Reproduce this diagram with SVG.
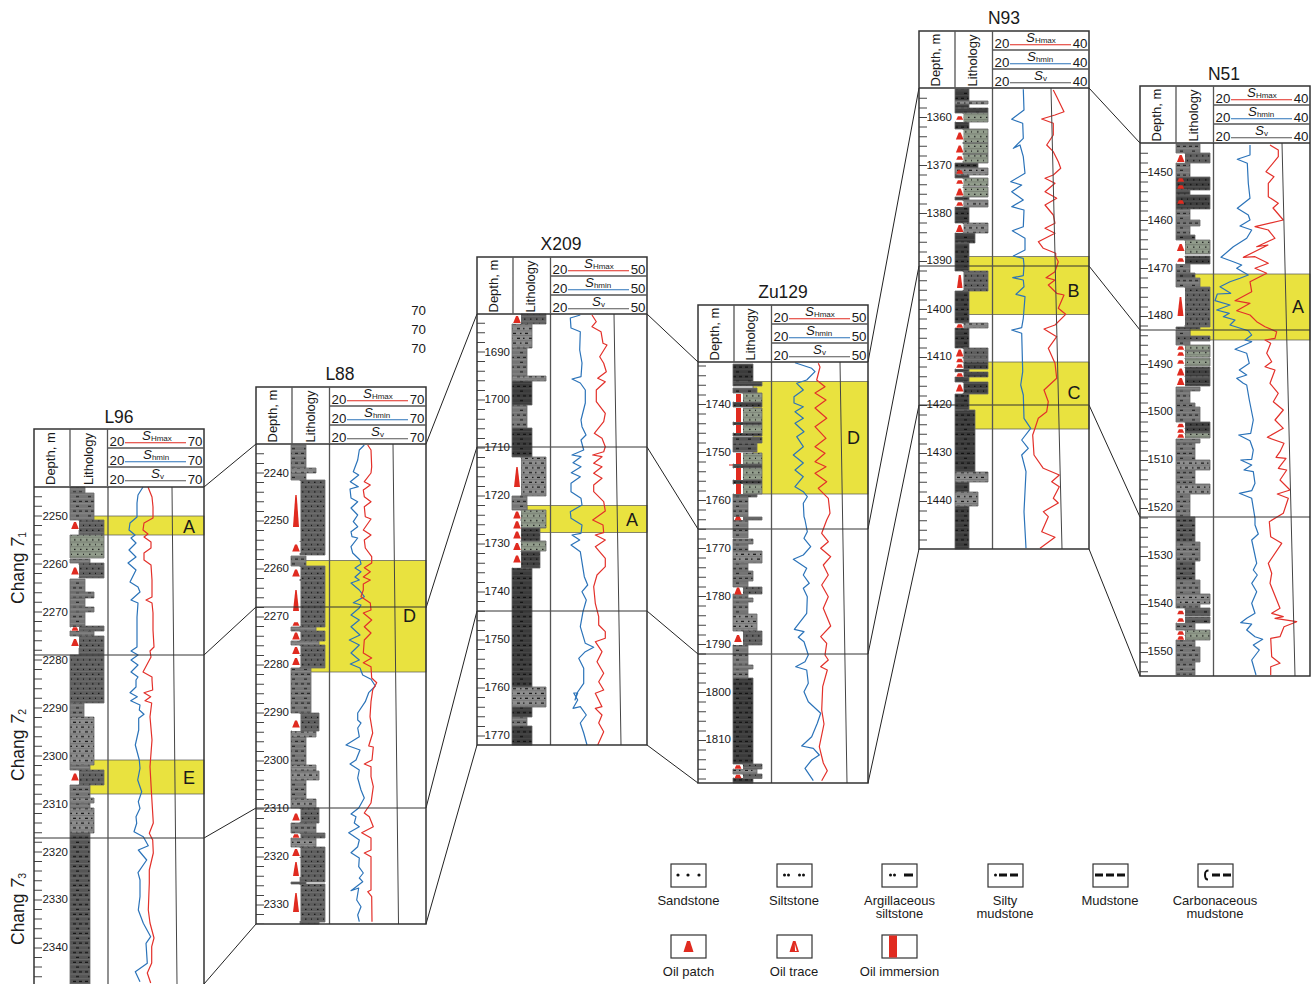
<svg xmlns="http://www.w3.org/2000/svg" width="1312" height="984" viewBox="0 0 1312 984">
<style>
text{font-family:"Liberation Sans",Arial,sans-serif;fill:#1a1a1a}
.ti{font-size:17.5px;text-anchor:middle}
.hd{font-size:13px}
.n{font-size:13.3px}
.e{text-anchor:end}
.st{font-size:13.3px;font-style:italic}
.sb{font-size:8px;font-style:normal}
.dp{font-size:11.5px;text-anchor:end}
.za{font-size:18px;text-anchor:middle}
.ch{font-size:17.5px}
.ch7{font-style:italic}
.chs{font-size:10.5px}
.lg{font-size:13px;text-anchor:middle}
.fr{fill:none;stroke:#333;stroke-width:1.5}
.div{fill:none;stroke:#555;stroke-width:1.3}
.hl{stroke:#333;stroke-width:1;fill:none}
.sv{stroke:#444;stroke-width:1;fill:none}
.tk{stroke:#444;stroke-width:8;stroke-dasharray:1 8.6;fill:none}
.yb{fill:#e9e23f;stroke:#555;stroke-width:.7}
.bl{fill:none;stroke:#2b73b9;stroke-width:1.2;stroke-linejoin:round}
.rd{fill:none;stroke:#e3302a;stroke-width:1.2;stroke-linejoin:round}
.lr{stroke:#e1291f;stroke-width:1.1}
.lb{stroke:#2a72b8;stroke-width:1.1}
.lv{stroke:#555;stroke-width:1.1}
.wh{fill:#fff}
.tri{fill:#e02b20}
.b{stroke:#6a6a6a;stroke-width:.8}
.fs{fill:url(#ps)}.fk{fill:url(#pk)}.fg{fill:url(#pg)}.fl{fill:url(#pl)}.fm{fill:url(#pm)}.fn{fill:url(#pn)}.fd{fill:url(#pd)}
.cn{stroke:#222;stroke-width:1;fill:none}
.lgb{fill:#fff;stroke:#333;stroke-width:1.2}
.lgd{fill:#111}
</style>
<defs>
<pattern id="ps" width="12" height="9.6" patternUnits="userSpaceOnUse"><rect width="12" height="9.6" fill="#5e5e5e"/><path d="M0 4.6H12M0 9.4H12" stroke="#8e8e8e" stroke-width=".5"/><path d="M2 2.3h1.5M8 2.3h1.5M5 7.1h1.5M11 7.1h1" stroke="#111" stroke-width="1.3"/></pattern>
<pattern id="pk" width="12" height="9.6" patternUnits="userSpaceOnUse"><rect width="12" height="9.6" fill="#3e3e3e"/><path d="M0 4.6H12M0 9.4H12" stroke="#7a7a7a" stroke-width=".5"/><path d="M2 2.3h1.5M8 2.3h1.5M5 7.1h1.5M11 7.1h1" stroke="#0c0c0c" stroke-width="1.3"/></pattern>
<pattern id="pg" width="12" height="9.6" patternUnits="userSpaceOnUse"><rect width="12" height="9.6" fill="#929d8c"/><path d="M0 4.6H12M0 9.4H12" stroke="#444" stroke-width=".4"/><path d="M2 2.3h1.5M8 2.3h1.5M5 7.1h1.5M11 7.1h1" stroke="#1a1a1a" stroke-width="1.3"/></pattern>
<pattern id="pl" width="12" height="9.6" patternUnits="userSpaceOnUse"><rect width="12" height="9.6" fill="#8d8d8d"/><path d="M0 4.6H12M0 9.4H12" stroke="#555" stroke-width=".5"/><path d="M1 2.3h3M7 2.3h1.5M4 7.1h1.5M9 7.1h3" stroke="#111" stroke-width="1.2"/></pattern>
<pattern id="pm" width="12" height="9.6" patternUnits="userSpaceOnUse"><rect width="12" height="9.6" fill="#747474"/><path d="M0 4.6H12M0 9.4H12" stroke="#a6a6a6" stroke-width=".5"/><path d="M1 2.3h3M7 2.3h3M4 7.1h3" stroke="#222" stroke-width="1"/></pattern>
<pattern id="pn" width="12" height="9.6" patternUnits="userSpaceOnUse"><rect width="12" height="9.6" fill="#555"/><path d="M0 4.6H12M0 9.4H12" stroke="#8e8e8e" stroke-width=".5"/><path d="M1 2.3h3M7 2.3h3M4 7.1h3" stroke="#111" stroke-width="1"/></pattern>
<pattern id="pd" width="12" height="9.6" patternUnits="userSpaceOnUse"><rect width="12" height="9.6" fill="#3b3b3b"/><path d="M0 4.6H12M0 9.4H12" stroke="#6a6a6a" stroke-width=".4"/><path d="M1 2.3h3M7 2.3h3M4 7.1h3" stroke="#0f0f0f" stroke-width="1"/></pattern>
<path id="t" class="tri" d="M-3.8 3.6L-1 -3.6H1L3.800 3.6Z"/>
<path id="u" class="tri" d="M-3.500 1.800L-1.800 -1.800H1.800L3.500 1.800Z"/>
<path id="hf" d="M36 0V57M73.5 0V57M73.5 19H170M73.5 38H170"/>
</defs>

<g id="connectors" class="cn">
<path d="M204 487L256 444M204 655L256 607M204 838L256 808M204 984L256 924"/>
<path d="M426 444L477 314M426 608L477 447M426 808L477 611M426 924L477 745"/>
<path d="M647 314L698 362M647 447L698 529M647 611L698 654M647 745L698 783"/>
<path d="M868 362L919 88M868 529L919 266M868 654L919 405M868 783L919 549"/>
<path d="M1089 88L1140 143M1089 266L1140 330M1089 405L1140 517M1089 549L1140 676"/>
</g>

<g id="stray-scale" class="n">
<text x="426" y="315" class="n e">70</text>
<text x="426" y="334" class="n e">70</text>
<text x="426" y="353" class="n e">70</text>
</g>

<g id="chang">
<text class="ch" transform="translate(24,604) rotate(-90)">Chang <tspan class="ch7">7</tspan><tspan class="chs" dy="2">1</tspan></text>
<text class="ch" transform="translate(24,781) rotate(-90)">Chang <tspan class="ch7">7</tspan><tspan class="chs" dy="2">2</tspan></text>
<text class="ch" transform="translate(24,945) rotate(-90)">Chang <tspan class="ch7">7</tspan><tspan class="chs" dy="2">3</tspan></text>
</g>

<g id="well-L96">
<text class="ti" x="119" y="423">L96</text>
<rect class="yb" x="84" y="516" width="120" height="19"/>
<rect class="yb" x="84" y="760" width="120" height="34"/>
<line class="tk" x1="38" x2="38" y1="496.2" y2="984"/>
<g class="b">
<path class="fm" d="M70 487h15v6H70zM70 493h24v27H70zM70 559h20v4H70zM70 579h15v13H70zM70 592h24v6H70zM70 598h15v9H70zM70 607h24v5H70zM70 612h15v15H70zM70 631h24v5H70zM70 703h14v14H70zM70 765h20v5H70zM70 785h20v13H70zM70 803h20v5H70z"/>
<path class="fl" d="M70 717h24v48H70zM70 798h24v5H70zM70 808h24v25H70z"/>
<path class="fs" d="M79 520h25v15H79zM79 563h25v15H79zM79 626h25v5H79zM79 636h25v19H79zM70 655h34v48H70zM79 770h25v15H79z"/>
<path class="fg" d="M70 535h34v23H70z"/>
<path class="fn" d="M70 833h20v151H70z"/>
</g>
<path class="wh" d="M71 521h8v9H71zM71 565h8v12H71zM71 627h8v4H71zM71 637h8v11H71zM71 771h8v13H71z"/>
<use href="#t" x="75" y="525.500"/><use href="#t" x="75" y="571"/><use href="#u" x="75" y="629"/><use href="#t" x="75" y="642.500"/><use href="#t" x="75" y="777"/>
<polyline class="bl" points="143,487 138,495 137,503 137,517 130,523 129,530 135,535 131,538 136,543 129,550 136,557 128,563 136,570 130,582 138,587 140,592 131,600 138,603 137,617 137,630 137,647 131,651 138,655 131,660 138,665 131,672 138,677 136,680 136,687 130,692.7 137.3,696.7 130.7,700.7 140,705 139.3,710 144,714.3 138.7,718.3 138.7,730 135.3,745 139.3,760 140,768.3 137.7,780 141.7,791.7 138.3,801.7 140,808.3 136,816.7 136.7,823.3 134,831.7 143.3,836.7 148.3,845.7 138.3,850 146.7,860 138,872.7 140,880 140,896.7 138.3,910 143.3,923.3 150.7,936.7 146,943.3 147.3,963.3 135.3,971.7 140,981.7"/>
<polyline class="rd" points="148,487 152,497 153,507 153,518 144,523 143,530 148,534 144,537 151,542 151,548 144,553 144,560 151,565 152,580 152,597 146,600 152,603 153,613 153,630 154,647 150,651 151,657 143,672 152,677 152,680 152.7,690 144,692.7 150.7,696.7 145,700.7 151.7,703 150,716.7 152,740 150,766.7 151.7,796.7 153.3,823 149.3,833.3 152.7,840 153.3,853 149.3,870 149.3,883 148.3,910 150,923 154,938 151.7,946.7 151.7,963 147.3,973 150.7,983"/>
<line class="sv" x1="172" y1="487" x2="177" y2="984"/>
<path class="hl" d="M34 655H204M34 838H204"/>
<line class="div" x1="108" y1="487" x2="108" y2="984"/>
<path class="fr" d="M34 984V429H204V984M34 487H204"/>
<g transform="translate(34,429)"><use href="#hf" class="div"/>
<text class="hd" transform="translate(21,56) rotate(-90)">Depth, m</text><text class="hd" transform="translate(58.500,56) rotate(-90)">Lithology</text>
<line class="lr" x1="91" x2="152" y1="13.700" y2="13.700"/><line class="lb" x1="91" x2="152" y1="32.700" y2="32.700"/><line class="lv" x1="91" x2="152" y1="51.700" y2="51.700"/>
<text class="n" x="75.500" y="16.500">20</text><text class="n e" x="168.500" y="16.500">70</text><text class="st" x="108" y="11">S<tspan class="sb" dy="1">Hmax</tspan></text>
<text class="n" x="75.500" y="35.500">20</text><text class="n e" x="168.500" y="35.500">70</text><text class="st" x="109" y="30">S<tspan class="sb" dy="1">hmin</tspan></text>
<text class="n" x="75.500" y="55">20</text><text class="n e" x="168.500" y="55">70</text><text class="st" x="117" y="49">S<tspan class="sb" dy="1">v</tspan></text></g>
<g>
<text class="dp" x="68" y="520">2250</text><text class="dp" x="68" y="568">2260</text><text class="dp" x="68" y="616">2270</text><text class="dp" x="68" y="664">2280</text><text class="dp" x="68" y="712">2290</text><text class="dp" x="68" y="760">2300</text><text class="dp" x="68" y="808">2310</text><text class="dp" x="68" y="856">2320</text><text class="dp" x="68" y="903">2330</text><text class="dp" x="68" y="951">2340</text>
</g>
<text class="za" x="189" y="532.500">A</text><text class="za" x="189" y="784">E</text>
</g>

<g id="well-L88">
<text class="ti" x="340" y="380">L88</text>
<rect class="yb" x="305" y="560.500" width="121" height="111.500"/>
<line class="tk" x1="260" x2="260" y1="453.300" y2="924"/>
<g class="b">
<path class="fm" d="M291 445h15v23H291zM291 473h15v7H291zM291 556h15v10H291zM291 627h25v4H291zM291 668h20v45H291zM291 737h15v28H291zM291 780h15v19H291zM291 823h25v10H291z"/>
<path class="fl" d="M291 468h25v5H291zM291 641h28v4H291zM291 731h25v6H291zM291 765h25v6H291zM291 771h28v9H291zM291 799h25v9H291zM291 838h25v9H291z"/>
<path class="fs" d="M300 480h25v75H300zM300 566h25v61H300zM300 631h25v10H300zM300 645h25v23H300zM300 713h19v18H300zM300 808h19v15H300zM300 833h25v5H300zM300 847h25v35H300zM300 884h25v38H300zM300 922h19v2H300z"/>
<path class="fk" d="M291 882h15v2H291z"/>
</g>
<path class="wh" d="M292 481h8.500v60H292zM292 542h8.500v11H292zM292 567h8.500v12H292zM292 581h8.500v41H292zM292 622h8.500v4H292zM292 632h8.500v8H292zM292 646h8.500v9H292zM292 656h8.500v11H292zM292 714h8.500v17H292zM292 809h8.500v13H292zM292 834h8.500v4H292zM292 848h8.500v9H292zM292 858h8.500v19H292zM292 885h8.500v36H292z"/>
<polygon class="tri" points="293,527 295.300,495 296.700,495 299,527"/><polygon class="tri" points="293,611 295.300,590 296.700,590 299,611"/><polygon class="tri" points="293,876 295.300,862 296.700,862 299,876"/><polygon class="tri" points="293,912 295.300,893 296.700,893 299,912"/>
<use href="#t" x="296" y="548"/><use href="#t" x="296" y="573"/><use href="#u" x="296" y="624"/><use href="#t" x="296" y="636"/><use href="#t" x="296" y="650.500"/><use href="#t" x="296" y="661.500"/><use href="#t" x="296" y="724"/><use href="#t" x="296" y="817"/><use href="#u" x="296" y="836"/><use href="#t" x="296" y="852.500"/>
<polyline class="bl" points="364.300,445 359.300,450 357.700,460 353.300,471.700 358.700,475 350.300,481.700 358.300,486.700 350,489 351,498 357.700,501.700 351,508 357.700,515 353.300,521.700 357.700,526.700 351,531.700 352,536.700 357.700,538 351,546.700 352.700,553 360,560 361,564 355,568 361,571.700 355,577 359.300,580 351,583 359.300,590 364.300,596.700 353.300,602.700 361,605 359.300,608 351,615 359.300,620 351,626.700 360,635 349.300,640 359.300,645 351,653 359.300,660 350.300,664 360,668 362.700,675 371,679.300 375.300,686 368.700,692.700 365.300,701.700 357.700,713 357.700,720 361,723 357.700,728 359.300,736.700 346,745 360,750 356,760 350,764 359.300,770 357.700,778 361,790 364.300,798 358.700,808 351,814 356,816.700 354.300,823 359.300,826.700 348.700,832.700 359.300,840 357.700,846.700 351,852.700 359.300,858 358.700,866.700 363.300,873 359.300,878 362.700,881.700 351,890.700 358.700,888 356.700,900 361,906.700 357.700,915 359.300,921.700"/>
<polyline class="rd" points="367.700,445 371,450 371.700,466.700 371,473 364.300,481.700 370.300,485 363.300,490 364.300,496.700 371,501.700 364.300,506.700 365.300,516.700 371,519 363.300,530 371,535 364.300,540 365.300,548 371.700,556.700 371.700,563 364.300,567.700 370.300,571.700 363.300,577 370.300,580 363.300,584 363.300,590 361,596.700 370.300,603 371,610 363.300,613 371.700,620 364.300,626.700 371,633 364.300,640 363.300,653 371.700,658 363.300,662.700 371,666.700 371.700,678 376.700,682.700 372.700,690 371,701.700 370,716.700 372.700,733 368.700,746 373.300,747 372,760 364.300,764 371,766.700 371,776.700 373.300,786.700 371,803 364.300,813 369.300,816.700 373.300,826.700 361.700,832.700 371,838 371,850 364.300,853 371,856.700 371,890 367.700,891.700 371.700,896.700 372,921.700"/>
<line class="sv" x1="393" y1="444" x2="398.500" y2="924"/>
<path class="hl" d="M256 607H426M256 808H426"/>
<line class="div" x1="329.500" y1="444" x2="329.500" y2="924"/>
<path class="fr" d="M256 387H426V924H256ZM256 444H426"/>
<g transform="translate(256,387)"><use href="#hf" class="div"/>
<text class="hd" transform="translate(21,55.500) rotate(-90)">Depth, m</text><text class="hd" transform="translate(58.500,55.500) rotate(-90)">Lithology</text>
<line class="lr" x1="91" x2="152" y1="13.700" y2="13.700"/><line class="lb" x1="91" x2="152" y1="32.700" y2="32.700"/><line class="lv" x1="91" x2="152" y1="51.700" y2="51.700"/>
<text class="n" x="75.500" y="16.500">20</text><text class="n e" x="168.500" y="16.500">70</text><text class="st" x="107" y="11">S<tspan class="sb" dy="1">Hmax</tspan></text>
<text class="n" x="75.500" y="35.500">20</text><text class="n e" x="168.500" y="35.500">70</text><text class="st" x="108" y="30">S<tspan class="sb" dy="1">hmin</tspan></text>
<text class="n" x="75.500" y="55">20</text><text class="n e" x="168.500" y="55">70</text><text class="st" x="115" y="49">S<tspan class="sb" dy="1">v</tspan></text></g>
<g>
<text class="dp" x="289" y="477">2240</text><text class="dp" x="289" y="524">2250</text><text class="dp" x="289" y="572">2260</text><text class="dp" x="289" y="620">2270</text><text class="dp" x="289" y="668">2280</text><text class="dp" x="289" y="716">2290</text><text class="dp" x="289" y="764">2300</text><text class="dp" x="289" y="812">2310</text><text class="dp" x="289" y="860">2320</text><text class="dp" x="289" y="908">2330</text>
</g>
<text class="za" x="409.500" y="622">D</text>
</g>

<g id="well-X209">
<text class="ti" x="561" y="250">X209</text>
<rect class="yb" x="527" y="505.500" width="120" height="27"/>
<line class="tk" x1="481" x2="481" y1="322.700" y2="745"/>
<g class="b">
<path class="fl" d="M512 324h20v24H512zM512 376h34v5H512zM512 687h34v20H512zM521 457h25v39H521z"/>
<path class="fm" d="M512 348h15v28H512zM512 405h15v23H512zM512 496h15v14H512zM512 717h15v9H512z"/>
<path class="fs" d="M521 314h25v10H521z"/>
<path class="fd" d="M512 381h20v24H512zM512 428h20v29H512zM512 568h20v119H512zM512 707h20v10H512zM512 726h20v19H512z"/>
<path class="fg" d="M521 510h25v18H521zM521 541h25v10H521z"/>
<path class="fk" d="M521 528h19v13H521zM521 551h19v17H521z"/>
</g>
<path class="wh" d="M513 315h8v8.500H513zM513 458h8v37H513zM513 511h8v8H513zM513 521h8v7.500H513zM513 529h8v11.500H513zM513 542h8v9H513zM513 552h8v15.500H513z"/>
<polygon class="tri" points="514,487 516.300,467 517.700,467 520,487"/>
<use href="#t" x="517" y="319.500"/><use href="#t" x="517" y="515"/><use href="#t" x="517" y="524.800"/><use href="#t" x="517" y="535"/><use href="#t" x="517" y="546.500"/><use href="#t" x="517" y="559"/>
<polyline class="bl" points="580.300,315 570.300,318 571,328 580.300,331.700 579.700,350 582,363 581,376.700 572,379 580.300,383 585.300,390 585.300,403 581,420 582,426.700 586,435 581,440 583.700,450 572,455 581,456.700 573,462.700 581,466.700 571.300,472.700 580.300,476.700 571,483.300 571,491.700 581,498.300 582,505 570.300,511.700 571,518.300 582,525 581,533.300 572,535 579.700,540 571,545 580.300,551.700 584.300,576.700 587.700,585 582,591.700 586.300,600 583,611.700 580.300,626.700 585.300,643.300 593.700,647.300 585.300,651.700 578.700,658.300 583.700,668.300 583.700,683.300 577,693 575,700 577.700,693 573.700,693 577.700,700 573,708.300 580.300,706.700 586.300,715 580.300,723 583.700,733 587,745"/>
<polyline class="rd" points="592,315 596.300,321.700 592,326.700 601,331.700 603,343.300 607,345 599.700,356.700 603.700,363.300 606.300,371.700 597.700,378.300 605.300,381.700 596.300,390 596.300,401.700 605.300,413.300 603.700,421.700 594.300,433.300 602,438.300 605.300,446.700 603.700,451.700 592.700,455 602,456.700 593.700,463.300 602,466.700 593.700,473.300 602,478.300 593.700,485 593.700,491.700 603.700,501.700 605.300,511 592.700,520 603,525 603.700,532.700 595.300,535 605.300,540 595.300,546.700 605.300,558.300 605.300,566.700 597,575 593.700,586.700 595.300,603.300 598.700,616.700 598.700,625 605.300,631.700 605.300,638.300 595.300,641.700 602,651.700 597,661.700 603.700,673.300 598.700,681.700 603.700,690 595.300,693.300 602,706.700 595.300,708.300 602,715 598.700,723 603.700,731.700 597.700,745"/>
<line class="sv" x1="614" y1="314" x2="621" y2="745"/>
<path class="hl" d="M477 447H647M477 611H647"/>
<line class="div" x1="550.500" y1="314" x2="550.500" y2="745"/>
<path class="fr" d="M477 257H647V745H477ZM477 314H647"/>
<g transform="translate(477,257)"><use href="#hf" class="div"/>
<text class="hd" transform="translate(21,55.500) rotate(-90)">Depth, m</text><text class="hd" transform="translate(58,55.500) rotate(-90)">Lithology</text>
<line class="lr" x1="91" x2="152" y1="13.700" y2="13.700"/><line class="lb" x1="91" x2="152" y1="32.700" y2="32.700"/><line class="lv" x1="91" x2="152" y1="51.700" y2="51.700"/>
<text class="n" x="75.500" y="16.500">20</text><text class="n e" x="168.500" y="16.500">50</text><text class="st" x="107" y="11">S<tspan class="sb" dy="1">Hmax</tspan></text>
<text class="n" x="75.500" y="35.500">20</text><text class="n e" x="168.500" y="35.500">50</text><text class="st" x="108" y="30">S<tspan class="sb" dy="1">hmin</tspan></text>
<text class="n" x="75.500" y="55">20</text><text class="n e" x="168.500" y="55">50</text><text class="st" x="115" y="49">S<tspan class="sb" dy="1">v</tspan></text></g>
<g>
<text class="dp" x="510" y="356">1690</text><text class="dp" x="510" y="403">1700</text><text class="dp" x="510" y="451">1710</text><text class="dp" x="510" y="499">1720</text><text class="dp" x="510" y="547">1730</text><text class="dp" x="510" y="595">1740</text><text class="dp" x="510" y="643">1750</text><text class="dp" x="510" y="691">1760</text><text class="dp" x="510" y="739">1770</text>
</g>
<text class="za" x="632" y="525.500">A</text>
</g>

<g id="well-Zu129">
<text class="ti" x="783" y="298">Zu129</text>
<rect class="yb" x="753" y="381.500" width="115" height="112.500"/>
<line class="tk" x1="702" x2="702" y1="365.600" y2="783"/>
<g class="b">
<path class="fd" d="M733 364h20v18H733zM733 678h20v86H733zM733 778h20v5H733z"/>
<path class="fk" d="M733 382h29v4H733zM733 402h29v5H733zM733 422h29v3H733zM733 433h29v3H733zM733 464h29v4H733zM733 480h29v4H733z"/>
<path class="fn" d="M733 388h24v5H733zM733 443h24v9H733zM733 437h29v6H733zM733 494h24v3H733z"/>
<path class="fg" d="M743 393h19v9H743zM743 408h19v14H743zM743 425h19v8H743zM743 453h19v11H743zM743 468h19v12H743zM743 484h19v10H743z"/>
<path class="fm" d="M733 497h15v23H733zM733 520h15v18H733zM733 539h20v5H733zM733 544h15v7H733zM733 563h15v8H733zM733 571h20v10H733zM733 581h15v6H733zM733 594h15v4H733zM733 598h20v4H733zM733 602h15v12H733zM733 645h15v20H733zM733 665h20v4H733zM733 669h15v9H733z"/>
<path class="fl" d="M733 551h29v12H733zM733 614h24v17H733zM733 769h24v5H733z"/>
<path class="fs" d="M743 517h19v3H743zM743 587h19v7H743zM743 631h19v14H743zM743 764h19v5H743zM743 774h19v4.500H743z"/>
</g>
<path class="wh" d="M734 394h9v8H734zM734 408h9v14H734zM734 425h9v8H734zM734 453h9v11H734zM734 468h9v12H734zM734 484h9v10H734zM734 517h9v3H734zM734 588h9v6H734zM734 632h9v13H734zM734 765h9v4H734zM734 775h9v3H734z"/>
<path fill="#e02b20" d="M736 394h5v8H736zM736 408h5v14H736zM736 425h5v8H736zM736 453h5v11H736zM736 468h5v12H736zM736 484h5v10H736zM729 464.500h4v1H729z"/>
<use href="#u" x="738" y="518.500"/><use href="#t" x="738" y="591"/><use href="#t" x="738" y="638.500"/><use href="#u" x="738" y="767"/><use href="#u" x="738" y="776.500"/>
<polyline class="bl" points="795,362.700 811.700,368.300 815,371.700 806.700,380 796.700,383.300 803.300,390 794,396.700 794,403 803.300,406.700 795,411.700 803.300,418.300 795,423.300 804,431.700 796.700,436.700 803.300,446.700 793.300,455 803.300,463 795,470 803.300,476.700 795,486.700 803.300,491.700 807.300,496.700 803.300,503.300 804,516.700 805,520 807.300,531.700 804,538.300 810.700,546.700 803.300,555 793.300,559.300 806.700,568.300 803.300,575 809.300,583.300 803.300,588.300 807.300,596.700 806.700,613.300 794.300,629.300 804,631.700 798.300,637.300 804,641.700 808.300,655 805,661.700 795.700,666.700 806.700,670 808.300,683.300 804,691.700 808.300,701.700 820.700,713.300 817.300,723.300 811.700,736.700 801.700,746 813.300,748.300 819.300,755 811.700,760 805,768.300 813.300,780.700"/>
<polyline class="rd" points="818.300,363.300 820,367 816.700,380 825,386.700 815,393 826,400 815,408 826.700,418.300 815,426.700 826,438.300 815,446.700 825,453.300 815,461.700 826,466.700 815,473.300 826.700,481.700 818.300,488.300 828.300,498.300 830,513.300 826.700,520 821.700,533.300 828.300,541.700 820.700,548.300 830.700,556.700 823.300,565 828.300,575 821.700,585 828.300,596.700 823.300,608.300 830.700,626 820.700,636.700 826.700,643.300 825,655 828.300,660 820.700,666.700 827.300,670 822.700,686.700 821.700,710 824,724 819.300,746.700 823.300,763 827.300,770.700 821.700,780.700"/>
<line class="sv" x1="840" y1="362" x2="847" y2="783"/>
<path class="hl" d="M698 529H868M698 654H868"/>
<line class="div" x1="771.500" y1="362" x2="771.500" y2="783"/>
<path class="fr" d="M698 305H868V783H698ZM698 362H868"/>
<g transform="translate(698,305)"><use href="#hf" class="div"/>
<text class="hd" transform="translate(21,55.500) rotate(-90)">Depth, m</text><text class="hd" transform="translate(57,55.500) rotate(-90)">Lithology</text>
<line class="lr" x1="91" x2="152" y1="13.700" y2="13.700"/><line class="lb" x1="91" x2="152" y1="32.700" y2="32.700"/><line class="lv" x1="91" x2="152" y1="51.700" y2="51.700"/>
<text class="n" x="75.500" y="16.500">20</text><text class="n e" x="168.500" y="16.500">50</text><text class="st" x="107" y="11">S<tspan class="sb" dy="1">Hmax</tspan></text>
<text class="n" x="75.500" y="35.500">20</text><text class="n e" x="168.500" y="35.500">50</text><text class="st" x="108" y="30">S<tspan class="sb" dy="1">hmin</tspan></text>
<text class="n" x="75.500" y="55">20</text><text class="n e" x="168.500" y="55">50</text><text class="st" x="115" y="49">S<tspan class="sb" dy="1">v</tspan></text></g>
<g>
<text class="dp" x="731" y="408">1740</text><text class="dp" x="731" y="456">1750</text><text class="dp" x="731" y="504">1760</text><text class="dp" x="731" y="552">1770</text><text class="dp" x="731" y="600">1780</text><text class="dp" x="731" y="648">1790</text><text class="dp" x="731" y="696">1800</text><text class="dp" x="731" y="743">1810</text>
</g>
<text class="za" x="853.500" y="443.500">D</text>
</g>

<g id="well-N93">
<text class="ti" x="1004" y="24">N93</text>
<rect class="yb" x="968" y="256.500" width="121" height="58"/>
<rect class="yb" x="968" y="362" width="121" height="67"/>
<line class="tk" x1="923" x2="923" y1="97.800" y2="549"/>
<g class="b">
<path class="fd" d="M955 89h14v12H955zM955 104h14v4H955zM955 108h33v5H955zM955 122h14v7H955zM955 163h23v5H955zM955 175h14v3H955zM955 197h14v3H955zM955 207h14v16H955zM955 233h20v10H955zM955 243h14v28H955zM955 291h14v32H955zM955 328h14v20H955zM955 369h14v3H955zM955 377h14v5H955zM955 394h14v16H955zM955 410h20v62H955zM955 482h14v10H955zM955 506h14v43H955z"/>
<path class="fl" d="M955 101h33v3H955zM955 168h33v7H955zM963 200h25v7H963zM963 223h25v10H963zM963 323h25v5H963zM955 472h33v10H955zM955 492h23v14H955z"/>
<path class="fg" d="M963 113h25v9H963zM963 129h25v14H963zM963 143h25v11H963zM963 154h25v9H963zM963 178h25v8H963zM963 187h25v10H963z"/>
<path class="fs" d="M963 271h25v20H963zM963 348h25v10H963zM963 358h25v4H963z"/>
<path class="fk" d="M963 362h25v7H963zM963 372h25v5H963zM963 382h25v12H963z"/>
</g>
<path class="wh" d="M956 114h7.500v8H956zM956 130h7.500v12H956zM956 144h7.500v9H956zM956 155h7.500v6H956zM956 179h7.500v6.500H956zM956 188h7.500v8H956zM956 201h7.500v5.500H956zM956 224h7.500v8.500H956zM956 272h7.500v18H956zM956 324h7.500v4H956zM956 349h7.500v8H956zM956 358.500h7.500v4H956zM956 363h7.500v6H956zM956 372.500h7.500v4.500H956zM956 383h7.500v10H956z"/>
<polygon class="tri" points="957,288 958.800,275 960.800,275 962.500,288"/>
<use href="#u" x="959.700" y="118"/><use href="#t" x="959.700" y="136"/><use href="#t" x="959.700" y="149"/><use href="#u" x="959.700" y="158"/><use href="#u" x="959.700" y="172"/><use href="#u" x="959.700" y="182"/><use href="#t" x="959.700" y="192"/><use href="#u" x="959.700" y="204"/><use href="#t" x="959.700" y="228.500"/><use href="#u" x="959.700" y="326"/><use href="#t" x="959.700" y="353"/><use href="#u" x="959.700" y="360.500"/><use href="#u" x="959.700" y="366"/><use href="#u" x="959.700" y="375"/><use href="#t" x="959.700" y="388"/>
<polyline class="bl" points="1023.300,89.300 1024,110 1011.700,119.300 1022.700,123.300 1023.300,138.300 1013.300,148.300 1020,145 1023.300,156.700 1025,173.300 1010.700,181.700 1021.700,185 1011.700,191.700 1023.300,200 1011.700,206.700 1024,210 1023.300,226.700 1012.300,230.700 1025,238.300 1025,250 1013.300,256 1023.300,258.300 1024,265 1023.300,275.700 1012.700,277.700 1023.300,280 1024,286.700 1016,294.300 1025,296.700 1023.300,318.300 1021.700,327.700 1011.700,330 1021.700,333.300 1022.700,371.700 1020.700,385 1023.300,395 1024,418.300 1030.700,428.300 1021.700,440 1028.300,448.300 1021.700,455 1026,471.700 1024,511.700 1026,548.300"/>
<polyline class="rd" points="1053.300,90 1056.700,96.700 1064,111.700 1055,115 1041.700,119 1053.300,123.300 1053.300,135 1046.700,145 1053.300,151.700 1058.300,161.700 1060.700,168.300 1053.300,175 1045,178.300 1055,183.300 1045,191.700 1056.700,198.300 1045,205 1053.300,215 1055,223.300 1045,228.300 1055,233.300 1038.300,241.700 1043.300,248.300 1055.700,253.300 1055.700,256.700 1058.300,261.700 1055,271.700 1046,277.700 1055,280 1048.300,285 1056.700,293.300 1064,295 1058.300,308.300 1065.700,314.300 1055,325 1044,329 1056.700,336.700 1048.300,348.300 1055,363.300 1056.700,378.300 1044,390 1048.300,401.700 1046.700,411.700 1038.300,418.300 1035,428.300 1032.700,435 1034,455 1043.300,468.300 1059.300,475 1051.700,481.700 1059.300,486.700 1053.300,498.300 1058.300,503 1043.300,511.700 1048.300,516.700 1041.700,531.700 1055,537.300 1040,548.300"/>
<line class="sv" x1="1051" y1="88" x2="1062" y2="549"/>
<path class="hl" d="M919 266H1089M919 405H1089"/>
<line class="div" x1="992.500" y1="88" x2="992.500" y2="549"/>
<path class="fr" d="M919 31H1089V549H919ZM919 88H1089"/>
<g transform="translate(919,31)"><use href="#hf" class="div"/>
<text class="hd" transform="translate(21,55.500) rotate(-90)">Depth, m</text><text class="hd" transform="translate(58,55.500) rotate(-90)">Lithology</text>
<line class="lr" x1="91" x2="152" y1="13.700" y2="13.700"/><line class="lb" x1="91" x2="152" y1="32.700" y2="32.700"/><line class="lv" x1="91" x2="152" y1="51.700" y2="51.700"/>
<text class="n" x="75.500" y="16.500">20</text><text class="n e" x="168.500" y="16.500">40</text><text class="st" x="107" y="11">S<tspan class="sb" dy="1">Hmax</tspan></text>
<text class="n" x="75.500" y="35.500">20</text><text class="n e" x="168.500" y="35.500">40</text><text class="st" x="108" y="30">S<tspan class="sb" dy="1">hmin</tspan></text>
<text class="n" x="75.500" y="55">20</text><text class="n e" x="168.500" y="55">40</text><text class="st" x="115" y="49">S<tspan class="sb" dy="1">v</tspan></text></g>
<g>
<text class="dp" x="952" y="121">1360</text><text class="dp" x="952" y="169">1370</text><text class="dp" x="952" y="217">1380</text><text class="dp" x="952" y="264">1390</text><text class="dp" x="952" y="313">1400</text><text class="dp" x="952" y="360">1410</text><text class="dp" x="952" y="408">1420</text><text class="dp" x="952" y="456">1430</text><text class="dp" x="952" y="504">1440</text>
</g>
<text class="za" x="1073.500" y="297">B</text><text class="za" x="1074" y="399">C</text>
</g>

<g id="well-N51">
<text class="ti" x="1224" y="80">N51</text>
<rect class="yb" x="1190" y="274" width="120" height="66"/>
<line class="tk" x1="1144" x2="1144" y1="152.800" y2="676"/>
<g class="b">
<path class="fm" d="M1176 144h24v9H1176zM1176 163h14v14H1176zM1176 209h14v11H1176zM1176 220h24v6H1176zM1176 226h14v9H1176zM1176 264h14v9H1176zM1176 278h24v9H1176zM1176 330h14v6H1176zM1176 341h14v4H1176zM1176 387h24v4H1176zM1176 391h14v12H1176zM1176 403h19v4H1176zM1176 407h24v15H1176zM1176 439h24v4H1176zM1176 443h19v17H1176zM1176 470h19v14H1176zM1176 494h14v23H1176zM1176 542h24v19H1176zM1176 580h24v14H1176zM1176 604h24v4H1176zM1176 623h19v7H1176zM1176 640h19v7H1176zM1176 647h24v15H1176zM1176 662h19v13H1176z"/>
<path class="fn" d="M1176 235h19v5H1176zM1176 273h19v5H1176zM1176 517h19v25H1176zM1176 561h19v19H1176zM1185 608h25v8H1185zM1185 617h25v6H1185z"/>
<path class="fs" d="M1185 153h25v10H1185zM1185 287h25v40H1185zM1176 336h34v5H1176z"/>
<path class="fk" d="M1176 177h34v13H1176zM1176 190h14v5H1176zM1176 195h34v14H1176zM1185 256h25v8H1185zM1176 327h24v2H1176zM1185 367h25v10H1185zM1185 377h25v9H1185zM1185 422h25v11H1185z"/>
<path class="fg" d="M1185 240h25v14H1185zM1185 345h25v6H1185zM1185 351h25v6H1185zM1185 358h25v8H1185zM1185 433h25v5H1185zM1185 630h25v10H1185z"/>
<path class="fl" d="M1176 460h34v10H1176zM1176 484h34v10H1176zM1176 594h34v10H1176z"/>
</g>
<path class="wh" d="M1177 154h8v8.500H1177zM1177 241h8v13H1177zM1177 257h8v7H1177zM1177 288h8v37H1177zM1177 346h8v4H1177zM1177 351h8v6H1177zM1177 359h8v6H1177zM1177 368h8v8H1177zM1177 377h8v9H1177zM1177 423h8v5H1177zM1177 429h8v4H1177zM1177 434h8v4H1177zM1177 610h8v5.500H1177zM1177 617h8v6H1177zM1177 631h8v4H1177zM1177 636h8v4H1177z"/>
<polygon class="tri" points="1177.500,316 1179.700,297 1181.300,297 1183.500,316"/>
<use href="#t" x="1180.700" y="158.500"/><use href="#u" x="1180.700" y="180"/><use href="#u" x="1180.700" y="187"/><use href="#u" x="1180.700" y="202"/><use href="#t" x="1180.700" y="247.500"/><use href="#u" x="1180.700" y="260"/><use href="#u" x="1180.700" y="348"/><use href="#u" x="1180.700" y="354"/><use href="#u" x="1180.700" y="362"/><use href="#t" x="1180.700" y="372"/><use href="#t" x="1180.700" y="381.500"/><use href="#u" x="1180.700" y="425.500"/><use href="#u" x="1180.700" y="431"/><use href="#u" x="1180.700" y="436"/><use href="#u" x="1180.700" y="612.500"/><use href="#u" x="1180.700" y="620"/><use href="#u" x="1180.700" y="633"/><use href="#u" x="1180.700" y="638"/>
<polyline class="bl" points="1250,145 1250,155 1237.300,159.300 1247.300,163.300 1248.300,183.300 1250,198.300 1237.300,208.300 1248.300,215 1250,220 1240,226 1251.700,230 1246.700,238.300 1233.300,246.700 1221,257.300 1233.300,261.700 1241.700,265 1236.700,268.300 1248.300,275 1240,278.300 1230,281.700 1220,286.700 1230.700,293.300 1217.300,294 1215,300.700 1230,305 1216.700,310 1229.300,313.300 1223.300,316.700 1235,320 1230,325 1248.300,330.700 1251.700,335 1245,340 1251.700,341.700 1235,349.300 1246.700,353.300 1249.300,363.300 1239.300,370 1246.700,375 1236.700,378.300 1243.300,383.300 1246.700,385 1249.300,400 1253.300,420 1250.700,433.300 1238.700,435 1250,440.700 1253.300,450 1251.700,459.300 1240.700,460 1251.700,465 1244,470 1253.300,471.700 1255,483.300 1251.700,490.700 1239.300,493.300 1251.700,498.300 1255,518.300 1255,525 1258.300,534 1251.700,540 1256.700,563.300 1253.300,570 1257.300,575 1251.700,583.300 1256.700,591.700 1251.700,603.300 1255,613.300 1246.700,618.300 1240.700,622.700 1251.700,624 1246.700,630 1255,636.700 1262.700,639.300 1253.300,645 1259.300,650 1251.700,660 1256,675"/>
<polyline class="rd" points="1270,145 1278.300,150 1278.300,156.700 1266,171.700 1274,176.700 1268.300,183.300 1268.300,196.700 1278.300,203.300 1273,208 1283.300,220 1255,226.700 1268.300,230 1275,238.300 1256.700,246.700 1268,245 1243.300,257.300 1255,256.700 1268.300,263.300 1255,268.300 1266.700,273.300 1250,281.700 1251.700,291.700 1235,300.700 1250,303.300 1236.700,310.700 1250,315 1256.700,321.700 1265,326.700 1276.700,331.700 1275,338.300 1265,340 1270.700,343.300 1266.700,353.300 1271.700,361.700 1265,366.700 1275,370 1270,383.300 1278.300,393.300 1273.300,401.700 1283.300,410 1275,420 1283.300,428.300 1267.300,437.300 1284,443.300 1280,451.700 1276,457.300 1286,458.300 1278.300,468.300 1286.700,470 1280,480 1290,490 1277.300,494 1288.300,498.300 1283.300,513.300 1269.300,521.700 1270.700,536.700 1281.700,543.300 1268.300,563.300 1271.700,573.300 1270,583.300 1276.700,600 1280,608.300 1271.700,613.300 1283.300,616.700 1275,618.300 1296.700,621.700 1284,626.700 1280,636.700 1270.700,638.300 1271.700,656.700 1280,663.300 1270.700,666.700 1270.700,675"/>
<line class="sv" x1="1282" y1="143" x2="1295" y2="676"/>
<path class="hl" d="M1140 330H1310M1140 517H1310"/>
<line class="div" x1="1213.500" y1="143" x2="1213.500" y2="676"/>
<path class="fr" d="M1140 86H1310V676H1140ZM1140 143H1310"/>
<g transform="translate(1140,86)"><use href="#hf" class="div"/>
<text class="hd" transform="translate(21,55.500) rotate(-90)">Depth, m</text><text class="hd" transform="translate(58,55.500) rotate(-90)">Lithology</text>
<line class="lr" x1="91" x2="152" y1="13.700" y2="13.700"/><line class="lb" x1="91" x2="152" y1="32.700" y2="32.700"/><line class="lv" x1="91" x2="152" y1="51.700" y2="51.700"/>
<text class="n" x="75.500" y="16.500">20</text><text class="n e" x="168.500" y="16.500">40</text><text class="st" x="107" y="11">S<tspan class="sb" dy="1">Hmax</tspan></text>
<text class="n" x="75.500" y="35.500">20</text><text class="n e" x="168.500" y="35.500">40</text><text class="st" x="108" y="30">S<tspan class="sb" dy="1">hmin</tspan></text>
<text class="n" x="75.500" y="55">20</text><text class="n e" x="168.500" y="55">40</text><text class="st" x="115" y="49">S<tspan class="sb" dy="1">v</tspan></text></g>
<g>
<text class="dp" x="1173" y="176">1450</text><text class="dp" x="1173" y="224">1460</text><text class="dp" x="1173" y="272">1470</text><text class="dp" x="1173" y="319">1480</text><text class="dp" x="1173" y="368">1490</text><text class="dp" x="1173" y="415">1500</text><text class="dp" x="1173" y="463">1510</text><text class="dp" x="1173" y="511">1520</text><text class="dp" x="1173" y="559">1530</text><text class="dp" x="1173" y="607">1540</text><text class="dp" x="1173" y="655">1550</text>
</g>
<text class="za" x="1298" y="313">A</text>
</g>

<g id="legend">
<g id="lg-sandstone"><rect class="lgb" x="671" y="864" width="35" height="23"/><circle class="lgd" cx="678" cy="875" r="1.600"/><circle class="lgd" cx="688" cy="875" r="1.600"/><circle class="lgd" cx="699" cy="875" r="1.600"/><text class="lg" x="688.500" y="905">Sandstone</text></g>
<g id="lg-siltstone"><rect class="lgb" x="777" y="864" width="35" height="23"/><circle class="lgd" cx="784.500" cy="875" r="1.500"/><circle class="lgd" cx="788.500" cy="875" r="1.500"/><circle class="lgd" cx="799.500" cy="875" r="1.500"/><circle class="lgd" cx="803.500" cy="875" r="1.500"/><text class="lg" x="794" y="905">Siltstone</text></g>
<g id="lg-argillaceous"><rect class="lgb" x="882" y="864" width="35" height="23"/><circle class="lgd" cx="890.500" cy="875" r="1.500"/><circle class="lgd" cx="894.500" cy="875" r="1.500"/><path class="lgd" d="M904 873.500h9v3h-9z"/><text class="lg" x="899.500" y="905">Argillaceous</text><text class="lg" x="899.500" y="918">siltstone</text></g>
<g id="lg-silty"><rect class="lgb" x="988" y="864" width="35" height="23"/><circle class="lgd" cx="995.500" cy="875" r="1.500"/><path class="lgd" d="M999 873.500h8v3h-8zM1010 873.500h8v3h-8z"/><text class="lg" x="1005" y="905">Silty</text><text class="lg" x="1005" y="918">mudstone</text></g>
<g id="lg-mudstone"><rect class="lgb" x="1093" y="864" width="35" height="23"/><path class="lgd" d="M1095 873.500h8v3h-8zM1106 873.500h8v3h-8zM1117 873.500h8v3h-8z"/><text class="lg" x="1110" y="905">Mudstone</text></g>
<g id="lg-carbonaceous"><rect class="lgb" x="1198" y="864" width="35" height="23"/><path d="M1208.500 870.500c-3 0-3.500 1.500-3.500 4.500s.5 4.500 3 4.500" fill="none" stroke="#111" stroke-width="2"/><path class="lgd" d="M1212 873.500h8v3h-8zM1223 873.500h8v3h-8z"/><text class="lg" x="1215" y="905">Carbonaceous</text><text class="lg" x="1215" y="918">mudstone</text></g>
<g id="lg-oilpatch"><rect class="lgb" x="671" y="935" width="35" height="23"/><polygon class="tri" points="683.500,952 687,941 690,941 693.500,952"/><text class="lg" x="688.500" y="976">Oil patch</text></g>
<g id="lg-oiltrace"><rect class="lgb" x="777" y="935" width="35" height="23"/><polygon class="tri" points="789.500,952 793,941 795.500,941 799,952"/><polygon class="wh" points="795,951 794.800,944 796.800,951"/><text class="lg" x="794" y="976">Oil trace</text></g>
<g id="lg-oilimmersion"><rect class="lgb" x="882" y="935" width="35" height="23"/><rect fill="#e02b20" x="889" y="935.500" width="8" height="22"/><text class="lg" x="899.500" y="976">Oil immersion</text></g>
</g>
</svg>
